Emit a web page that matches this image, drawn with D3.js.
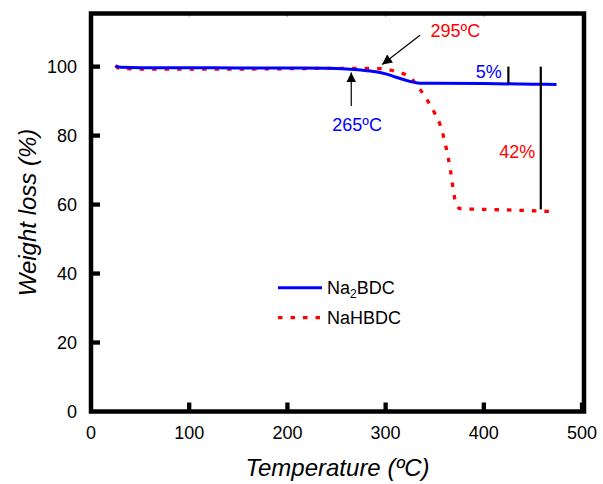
<!DOCTYPE html>
<html>
<head>
<meta charset="utf-8">
<script src="https://cdn.jsdelivr.net/npm/d3@7"></script>
<style>
  html, body { margin: 0; padding: 0; background: #fff; }
  svg { display: block; font-family: "Liberation Sans", Arial, sans-serif; }
</style>
</head>
<body>
<svg id="chart" width="603" height="484"></svg>
<script>
// ---- Data ----
const xTicks = [0, 100, 200, 300, 400, 500];
const yTicks = [0, 20, 40, 60, 80, 100];

const seriesNames = ["Na2BDC", "NaHBDC"];

// Na2BDC (solid blue): temperature (ºC), weight (%)
const na2bdcT = [25, 30, 50, 100, 150, 200, 240, 260, 275, 290, 300, 310, 320, 328, 335, 350, 400, 450, 474];
const na2bdcW = [100.2, 99.8, 99.7, 99.7, 99.6, 99.6, 99.5, 99.3, 99.0, 98.5, 97.9, 97.0, 96.1, 95.5, 95.2, 95.2, 95.1, 94.9, 94.8];

// NaHBDC (dotted red)
const nahbdcT = [25, 28, 50, 100, 150, 200, 250, 280, 295, 305, 312, 320, 328, 335, 343, 350, 355, 362, 366, 369, 372, 376, 400, 430, 474];
const nahbdcW = [100.3, 99.6, 99.3, 99.3, 99.3, 99.4, 99.5, 99.5, 99.4, 99.0, 98.5, 97.7, 96.0, 93.4, 90.0, 86.5, 83.5, 76.0, 70.0, 64.0, 60.0, 58.8, 58.6, 58.4, 57.9];

// Annotations
const arrowBlue = { t1: 265, w1: 88.6, t2: 265, w2: 98.3 };
const arrowRed  = { t1: 335, w1: 109.1, t2: 296.5, w2: 100.6 };
const labels = [
  { text: "295ºC", t: 371, w: 110.2, color: "#ff0000" },
  { text: "265ºC", t: 271, w: 83.0, color: "#0000ff" },
  { text: "5%",    t: 405, w: 98.5, color: "#0000ff" },
  { text: "42%",   t: 434, w: 75.2, color: "#ff0000" }
];
const bars = [
  { t: 425, w1: 100, w2: 95.1 },
  { t: 458, w1: 100, w2: 58.6 }
];

// ---- Layout ----
const W = 603, H = 484;
const margin = { left: 91, right: 19, top: 13.5, bottom: 72.5 };
const svg = d3.select("#chart");

const x = d3.scaleLinear().domain([0, 502]).range([margin.left, W - margin.right]);
const y = d3.scaleLinear().domain([0, 115.4]).range([H - margin.bottom, margin.top]);

// defs: arrow marker
svg.append("defs").append("marker")
  .attr("id", "arrow")
  .attr("viewBox", "0 0 10 10")
  .attr("refX", 10).attr("refY", 5)
  .attr("markerWidth", 10).attr("markerHeight", 10)
  .attr("markerUnits", "userSpaceOnUse")
  .attr("orient", "auto")
  .append("path").attr("d", "M0,0 L10,5 L0,10 z").attr("fill", "#000");

// ---- Lines ----
const line = d3.line().x(d => x(d[0])).y(d => y(d[1])).curve(d3.curveMonotoneX);
const blueData = na2bdcT.map((t, i) => [t, na2bdcW[i]]);
const redData = nahbdcT.map((t, i) => [t, nahbdcW[i]]);

svg.append("path").datum(redData)
  .attr("d", line).attr("fill", "none")
  .attr("stroke", "#ff0000").attr("stroke-width", 3.3)
  .attr("stroke-dasharray", "4.5,8");

svg.append("path").datum(blueData)
  .attr("d", line).attr("fill", "none")
  .attr("stroke", "#0000ff").attr("stroke-width", 3);

// ---- Annotations ----
svg.append("line")
  .attr("x1", x(arrowBlue.t1)).attr("y1", y(arrowBlue.w1))
  .attr("x2", x(arrowBlue.t2)).attr("y2", y(arrowBlue.w2))
  .attr("stroke", "#000").attr("stroke-width", 1.2)
  .attr("marker-end", "url(#arrow)");
svg.append("line")
  .attr("x1", x(arrowRed.t1)).attr("y1", y(arrowRed.w1))
  .attr("x2", x(arrowRed.t2)).attr("y2", y(arrowRed.w2))
  .attr("stroke", "#000").attr("stroke-width", 1.2)
  .attr("marker-end", "url(#arrow)");

svg.selectAll("line.bar").data(bars).enter().append("line")
  .attr("class", "bar")
  .attr("x1", d => x(d.t)).attr("x2", d => x(d.t))
  .attr("y1", d => y(d.w1)).attr("y2", d => y(d.w2))
  .attr("stroke", "#000").attr("stroke-width", 2.2);

svg.selectAll("text.ann").data(labels).enter().append("text")
  .attr("class", "ann")
  .attr("x", d => x(d.t)).attr("y", d => y(d.w))
  .attr("text-anchor", "middle").attr("dominant-baseline", "central")
  .attr("font-size", 18).attr("fill", d => d.color)
  .text(d => d.text);

// ---- Axes / frame ----
const frameW = 4.5;
const x0 = x.range()[0], x1 = x.range()[1], y0 = y.range()[0], y1 = y.range()[1];

// ticks
svg.selectAll("line.xt").data(xTicks.filter(v => v > 0)).enter().append("line")
  .attr("x1", d => x(d)).attr("x2", d => x(d))
  .attr("y1", y0).attr("y2", y0 - 9)
  .attr("stroke", "#000").attr("stroke-width", 4.3);
svg.selectAll("line.yt").data(yTicks.filter(v => v > 0)).enter().append("line")
  .attr("x1", x0).attr("x2", x0 + 9)
  .attr("y1", d => y(d)).attr("y2", d => y(d))
  .attr("stroke", "#000").attr("stroke-width", 4.3);

// small minor ticks on top/right
svg.selectAll("line.xtt").data(xTicks.filter(v => v > 0 && v < 500)).enter().append("line")
  .attr("x1", d => x(d)).attr("x2", d => x(d))
  .attr("y1", y1).attr("y2", y1 + 3)
  .attr("stroke", "#555").attr("stroke-width", 1);

svg.append("rect")
  .attr("x", x0).attr("y", y1)
  .attr("width", x1 - x0).attr("height", y0 - y1)
  .attr("fill", "none").attr("stroke", "#000").attr("stroke-width", frameW);

// tick labels
svg.selectAll("text.xl").data(xTicks).enter().append("text")
  .attr("x", d => x(d)).attr("y", 433)
  .attr("text-anchor", "middle").attr("dominant-baseline", "central")
  .attr("font-size", 18).attr("fill", "#000")
  .text(d => d);
svg.selectAll("text.yl").data(yTicks).enter().append("text")
  .attr("x", 77).attr("y", d => y(d))
  .attr("text-anchor", "end").attr("dominant-baseline", "central")
  .attr("font-size", 18).attr("fill", "#000")
  .text(d => d);

// axis titles
svg.append("text")
  .attr("x", (x0 + x1) / 2).attr("y", 467)
  .attr("text-anchor", "middle").attr("dominant-baseline", "central")
  .attr("font-size", 24).attr("font-style", "italic").attr("fill", "#000")
  .text("Temperature (ºC)");
svg.append("text")
  .attr("transform", `translate(27,${(y0 + y1) / 2}) rotate(-90)`)
  .attr("text-anchor", "middle").attr("dominant-baseline", "central")
  .attr("font-size", 24).attr("font-style", "italic").attr("fill", "#000")
  .text("Weight loss (%)");

// ---- Legend ----
const lg = svg.append("g");
const legendItems = [
  { name: seriesNames[0], color: "#0000ff", dash: null, yy: 287.7, sw: 3 },
  { name: seriesNames[1], color: "#ff0000", dash: "4.5,8", yy: 317.7, sw: 3.3 }
];
legendItems.forEach(it => {
  lg.append("line")
    .attr("x1", 278).attr("x2", 322)
    .attr("y1", it.yy).attr("y2", it.yy)
    .attr("stroke", it.color).attr("stroke-width", it.sw)
    .attr("stroke-dasharray", it.dash);
  const t = lg.append("text")
    .attr("x", 327).attr("y", it.yy)
    .attr("dominant-baseline", "central")
    .attr("font-size", 18).attr("fill", "#000");
  if (it.name === "Na2BDC") {
    t.append("tspan").text("Na");
    t.append("tspan").attr("font-size", 12).attr("dy", 6).text("2");
    t.append("tspan").attr("dy", -6).text("BDC");
  } else {
    t.text(it.name);
  }
});
</script>
</body>
</html>
